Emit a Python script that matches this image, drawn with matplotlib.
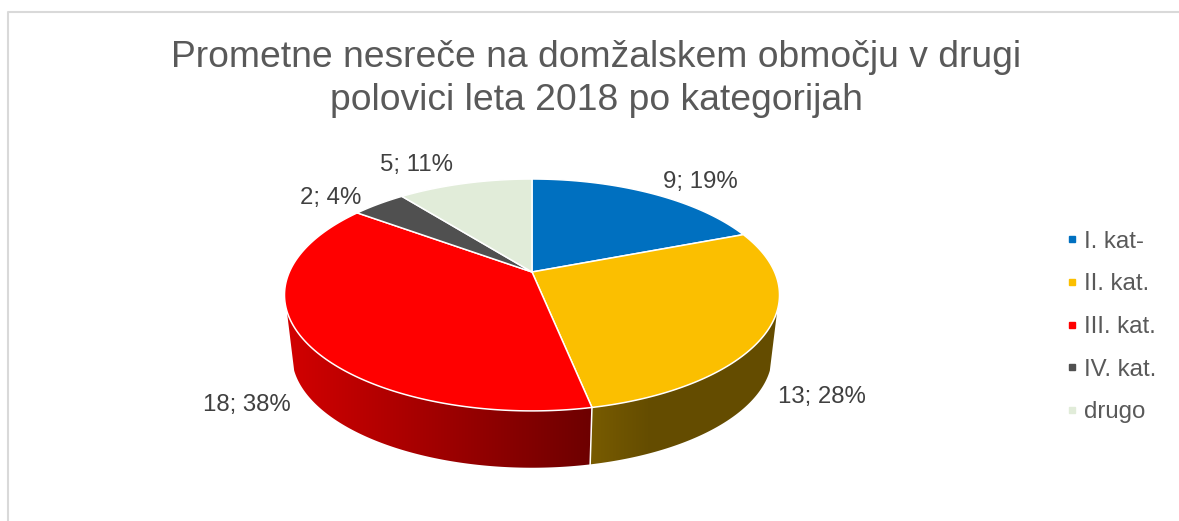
import numpy as np
import matplotlib
matplotlib.use("Agg")
import matplotlib.pyplot as plt
from matplotlib.lines import Line2D
from matplotlib.patches import PathPatch, Polygon
from matplotlib.path import Path

plt.rcParams['font.family'] = ['Liberation Sans', 'DejaVu Sans']

title = "Prometne nesreče na domžalskem območju v drugi\npolovici leta 2018 po kategorijah"
categories = ["I. kat-", "II. kat.", "III. kat.", "IV. kat.", "drugo"]
values = [9, 13, 18, 2, 5]
colors = ["#0070C0", "#FBBF00", "#FF0000", "#505050", "#E1ECD9"]

# projection of the tilted pie, in picture pixels
cx, cy = 532, 272
rx, ry = 242.6, 111.4
persp = 0.198
drop, shrink = 61, 0.97
wall_from, wall_to = 109, 251

# how dark the side wall gets from left to right
wall_shades = {1: ([590, 650], [0.48, 0.40]), 2: ([290, 590], [0.82, 0.43])}
# label shift away from the rim at the middle of each slice
label_shift = [(50, -11), (55, 66), (-56, 66), (-48, -6), (-48, -18)]


def project(deg, level=0):
    t = np.radians(deg)
    u, v = np.sin(t), np.cos(t)
    den = 1 + persp * v
    x, y = rx * u / den, -ry * v / den
    if level:
        return cx + shrink * x, cy + drop + shrink * y
    return cx + x, cy + y


fig = plt.figure(figsize=(11.79, 5.21), dpi=100)
ax = fig.add_axes([0, 0, 1, 1])

# chart frame, open at right and bottom
ax.plot([8, 8, 1179], [521, 12, 12], color="#D9D9D9", lw=1.5)

edges = np.cumsum([0] + values) / sum(values) * 360

# side walls first
for i, col in enumerate(colors):
    a, b = max(edges[i], wall_from), min(edges[i + 1], wall_to)
    if a >= b:
        continue
    t = np.linspace(a, b, 120)
    xt, yt = project(t)
    xb, yb = project(t[::-1], 1)
    poly = np.column_stack([np.r_[xt, xb], np.r_[yt, yb]])
    clip = PathPatch(Path(np.vstack([poly, poly[0]]), closed=True), transform=ax.transData,
                     fc="none", ec="none")
    ax.add_patch(clip)
    xs = np.arange(poly[:, 0].min() - 1, poly[:, 0].max() + 2)
    shade = np.interp(xs, *wall_shades[i])
    rgb = np.array(matplotlib.colors.to_rgb(col))
    img = shade[None, :, None] * rgb
    im = ax.imshow(img, extent=[xs[0], xs[-1], poly[:, 1].max() + 1, poly[:, 1].min() - 1],
                   aspect="auto", interpolation="bilinear", zorder=2)
    im.set_clip_path(clip)

# top of the pie
for i, col in enumerate(colors):
    t = np.linspace(edges[i], edges[i + 1], 200)
    xt, yt = project(t)
    pts = np.column_stack([np.r_[cx, xt], np.r_[cy, yt]])
    ax.add_patch(Polygon(pts, closed=True, fc=col, ec="white", lw=1.1, zorder=3, joinstyle="round"))

# white seam between the walls
for e in edges:
    if wall_from < e < wall_to:
        x0, y0 = project(e)
        x1, y1 = project(e, 1)
        ax.plot([x0, x1], [y0, y1], color="white", lw=1.1, zorder=4)

# data labels
mids = (edges[:-1] + edges[1:]) / 2
for v, m, (dx, dy) in zip(values, mids, label_shift):
    x, y = project(m)
    ax.text(x + dx, y + dy, f"{v}; {round(v / sum(values) * 100)}%", ha="center", va="center",
            fontsize=17.3, color="#404040", zorder=5)

ax.text(596, 79, title, ha="center", va="center", fontsize=26.8, color="#595959", linespacing=1.31)

handles = [Line2D([], [], ls="", marker="s", ms=5, color=c, label=n) for c, n in zip(colors, categories)]
leg = ax.legend(handles=handles, loc="center left", bbox_to_anchor=(1061 / 1179, 1 - 327 / 521),
                frameon=False, fontsize=17.3, labelcolor="#595959", labelspacing=0.86,
                handletextpad=0.0, handlelength=0.95, borderpad=0, borderaxespad=0)

ax.set_xlim(0, 1179)
ax.set_ylim(521, 0)
ax.axis("off")
fig.savefig("out.png", dpi=100, facecolor="white")
